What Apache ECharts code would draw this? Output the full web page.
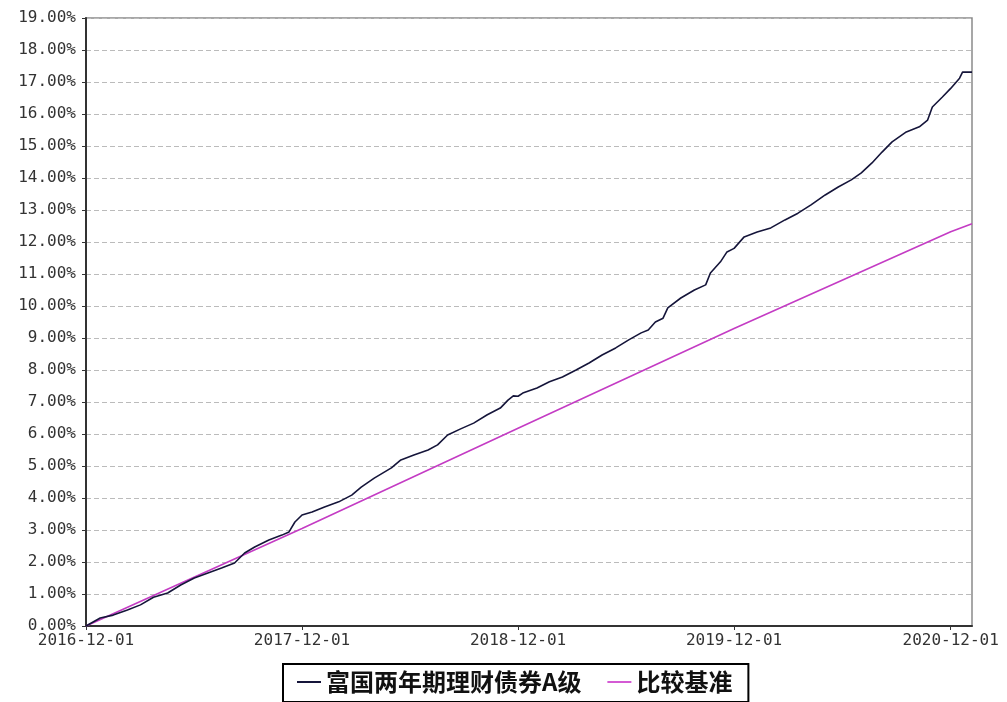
<!DOCTYPE html>
<html>
<head>
<meta charset="utf-8">
<script src="https://cdn.jsdelivr.net/npm/echarts@6/dist/echarts.min.js"></script>
<style>html,body{margin:0;padding:0;background:#fff;}#c{width:1007px;height:702px;}</style>
</head>
<body>
<div id="c"></div>
<script>
var seriesNames = ['富国两年期理财债券A级', '比较基准'];
var xTickLabels = ['2016-12-01', '2017-12-01', '2018-12-01', '2019-12-01', '2020-12-01'];
var xMin = '2016-12-01';
var xMax = '2021-01-06';
var yTicks = {min: 0, max: 19, interval: 1};

var fundDates = ['2016-12-01','2016-12-25','2017-01-16','2017-02-09','2017-03-03','2017-03-25','2017-04-18','2017-05-10','2017-06-02','2017-06-25','2017-07-18','2017-08-09','2017-08-26','2017-09-12','2017-10-06','2017-10-28','2017-11-09','2017-11-19','2017-12-01',
'2017-12-18','2018-01-08','2018-02-01','2018-02-23','2018-03-11','2018-04-02','2018-05-01','2018-05-17','2018-06-08','2018-07-02','2018-07-18','2018-08-04','2018-08-26','2018-09-17','2018-10-10','2018-11-01','2018-11-14','2018-11-23','2018-12-01',
'2018-12-09','2019-01-02','2019-01-23','2019-02-14','2019-03-09','2019-03-31','2019-04-22','2019-05-15','2019-06-06','2019-06-27','2019-07-09','2019-07-21','2019-08-03','2019-08-11','2019-09-02','2019-09-25','2019-10-14','2019-10-22','2019-11-08','2019-11-19','2019-12-01',
'2019-12-18','2020-01-09','2020-02-01','2020-02-25','2020-03-18','2020-04-09','2020-05-03','2020-05-25','2020-06-16','2020-07-03','2020-07-21','2020-08-07','2020-08-24','2020-09-17','2020-10-09','2020-10-23','2020-10-31','2020-11-17','2020-12-01','2020-12-16','2020-12-21','2021-01-06'];
var fundValues = [0.00,0.25,0.34,0.50,0.66,0.90,1.03,1.28,1.50,1.66,1.81,1.97,2.28,2.47,2.69,2.84,2.94,3.25,3.47,
3.56,3.72,3.88,4.09,4.34,4.62,4.94,5.19,5.34,5.50,5.66,5.97,6.16,6.34,6.60,6.81,7.06,7.19,7.18,
7.28,7.44,7.63,7.78,8.00,8.22,8.47,8.69,8.94,9.16,9.25,9.50,9.62,9.94,10.25,10.50,10.66,11.03,11.38,11.69,11.80,
12.16,12.31,12.44,12.69,12.90,13.16,13.47,13.72,13.94,14.16,14.47,14.81,15.13,15.44,15.60,15.81,16.22,16.53,16.80,17.12,17.31,17.31];

var benchDates = ['2016-12-01','2017-12-01','2018-12-01','2019-12-01','2020-12-01','2021-01-06'];
var benchValues = [0.00, 3.05, 6.18, 9.30, 12.32, 12.57];

function parseDay(s){var p=s.split('-');return new Date(+p[0],+p[1]-1,+p[2]).getTime();}
function pad(n){return (n<10?'0':'')+n;}
function fmtDay(t){var d=new Date(t);return d.getFullYear()+'-'+pad(d.getMonth()+1)+'-'+pad(d.getDate());}

var fundData = fundDates.map(function(d,i){return [parseDay(d), fundValues[i]];});
var benchData = benchDates.map(function(d,i){return [parseDay(d), benchValues[i]];});
var tickVals = xTickLabels.map(parseDay);

var chart = echarts.init(document.getElementById('c'), null, {renderer:'canvas'});
var monoFont = 'DejaVu Sans Mono';
chart.setOption({
  animation: false,
  backgroundColor: '#fff',
  grid: {left: 86, right: 35, top: 18, bottom: 76, show: true, borderColor: '#8a8a8a', borderWidth: 1.5, backgroundColor: 'transparent'},
  legend: {
    data: seriesNames,
    left: 283, top: 664,
    icon: 'rect', itemWidth: 24, itemHeight: 2, itemGap: 26,
    borderColor: '#000', borderWidth: 2, padding: [6, 16, 8, 14],
    textStyle: {fontFamily: 'Noto Sans CJK SC', fontWeight: 'bold', fontSize: 24, color: '#111'}
  },
  xAxis: {
    type: 'value', min: parseDay(xMin), max: parseDay(xMax),
    axisLine: {show: true, onZero: false, lineStyle: {color: '#333', width: 2}},
    axisTick: {show: true, length: 4, customValues: tickVals, lineStyle: {color: '#333'}},
    axisLabel: {customValues: tickVals, formatter: function(v){return fmtDay(v);}, fontFamily: monoFont, fontSize: 16, color: '#333', margin: 7},
    splitLine: {show: false}
  },
  yAxis: {
    type: 'value', min: yTicks.min, max: yTicks.max, interval: yTicks.interval,
    axisLine: {show: true, lineStyle: {color: '#333', width: 2}},
    axisTick: {show: true, length: 4, lineStyle: {color: '#333'}},
    axisLabel: {formatter: function(v){return v.toFixed(2)+'%';}, fontFamily: monoFont, fontSize: 16, color: '#333', margin: 10},
    splitLine: {show: true, lineStyle: {color: '#bbbbbb', type: [5, 3], width: 1}}
  },
  series: [
    {name: seriesNames[0], type: 'line', data: fundData, showSymbol: false, symbol: 'none', lineStyle: {color: '#15153a', width: 1.6}, itemStyle: {color: '#15153a'}, z: 3},
    {name: seriesNames[1], type: 'line', data: benchData, showSymbol: false, symbol: 'none', lineStyle: {color: '#c43cc4', width: 1.6}, itemStyle: {color: '#d45ad4'}, z: 2}
  ]
});
</script>
</body>
</html>
